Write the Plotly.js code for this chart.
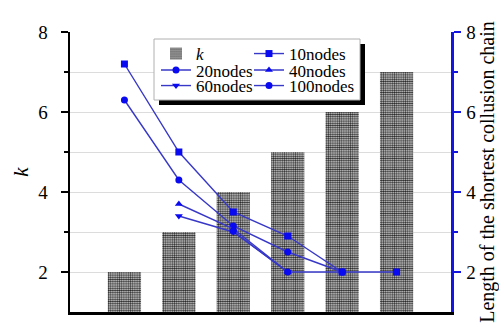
<!DOCTYPE html>
<html>
<head>
<meta charset="utf-8">
<script src="https://cdn.plot.ly/plotly-3.0.1.min.js"></script>
<style>html,body{margin:0;padding:0;background:#fff;}#chart{width:499px;height:325px;}</style>
</head>
<body>
<div id="chart"></div>
<script>
// ---- data ----
var positions = [1, 2, 3, 4, 5, 6];
var kValues = [2, 3, 4, 5, 6, 7];
var nodes10 = [7.2, 5.0, 3.5, 2.9, 2.0, 2.0];
var nodes20 = [6.3, 4.3, 3.15, 2.5, 2.0, null];
var nodes40 = [null, 3.7, 3.08, 2.0, null, null];
var nodes60 = [null, 3.4, 3.0, 2.0, null, null];
var nodes100 = [null, null, 3.02, 2.0, 2.0, null];
var yTicks = [2, 4, 6, 8];
var yMinor = [3, 5, 7];
var seriesNames = ['10nodes', '20nodes', '40nodes', '60nodes', '100nodes'];

// ---- geometry helpers (plot area in pixels) ----
var W = 499, H = 325, L = 70, R = 48, T = 32, B = 13;
var pw = W - L - R, ph = H - T - B;
function px(x) { return (x - L) / pw; }
function py(y) { return (H - B - y) / ph; }

var FONT = '"Liberation Serif", "Times New Roman", serif';
var lineCol = '#3838c8';
var markCol = '#0a0af0';

function lineTrace(name, ys, symbol, legendId) {
  return {
    type: 'scatter', mode: 'lines+markers', name: name,
    x: positions, y: ys, yaxis: 'y2', connectgaps: false,
    line: {color: lineCol, width: 1.4},
    marker: {color: markCol, size: 7, symbol: symbol},
    legend: legendId
  };
}

var traces = [
  {
    type: 'bar', name: '<i>k</i>', x: positions, y: kValues, width: 0.61,
    marker: {color: '#8a8a8a', line: {width: 0},
      pattern: {shape: '.', fgcolor: '#2a2a2a', bgcolor: '#e6e6e6', size: 2.2, solidity: 0.6}},
    legend: 'legend'
  },
  lineTrace(seriesNames[0], nodes10, 'square', 'legend4'),
  lineTrace(seriesNames[1], nodes20, 'circle', 'legend2'),
  lineTrace(seriesNames[2], nodes40, 'triangle-up', 'legend5'),
  lineTrace(seriesNames[3], nodes60, 'triangle-down', 'legend3'),
  lineTrace(seriesNames[4], nodes100, 'circle', 'legend6')
];

function leg(xp, yp) {
  return {x: px(xp), y: py(yp), xanchor: 'left', yanchor: 'middle',
    bgcolor: 'rgba(0,0,0,0)', borderwidth: 0, itemwidth: 30,
    font: {family: FONT, size: 17, color: '#000'}};
}

var layout = {
  width: W, height: H,
  margin: {l: L, r: R, t: T, b: B, pad: 0},
  paper_bgcolor: '#fff', plot_bgcolor: '#fff',
  font: {family: FONT, size: 19, color: '#000'},
  showlegend: true,
  xaxis: {range: [0, 7], showline: true, linecolor: '#000', linewidth: 2.5,
    ticks: '', showticklabels: false, showgrid: false, zeroline: false, fixedrange: true},
  xaxis2: {overlaying: 'x', side: 'top', anchor: 'y', range: [0, 7], tickvals: positions,
    ticks: 'inside', ticklen: 5, tickwidth: 1.5, tickcolor: '#222',
    showline: true, linecolor: '#333', linewidth: 1.5,
    showticklabels: false, showgrid: false, zeroline: false},
  yaxis: {range: [1, 8], tickvals: yTicks, ticks: 'outside', ticklen: 7, tickwidth: 2, tickcolor: '#000',
    showline: true, linecolor: '#000', linewidth: 2.5, zeroline: false,
    showgrid: true, gridcolor: '#dcdcdc', gridwidth: 1,
    ticklabelstandoff: 9,
    tickfont: {family: FONT, size: 19, color: '#000'},
    minor: {tickvals: yMinor, ticks: 'outside', ticklen: 4, tickwidth: 2, tickcolor: '#000',
      showgrid: true, gridcolor: '#dcdcdc', gridwidth: 1},
    title: {text: '<i>k</i>', font: {family: FONT, size: 21}, standoff: 4}},
  yaxis3: {overlaying: 'y', side: 'left', anchor: 'x', range: [1, 8], tickvals: yTicks,
    ticks: 'inside', ticklen: 7, tickwidth: 2, tickcolor: '#000', showticklabels: false,
    showgrid: false, zeroline: false, showline: false,
    minor: {tickvals: yMinor, ticks: 'inside', ticklen: 4, tickwidth: 2, tickcolor: '#000'}},
  yaxis2: {overlaying: 'y', side: 'right', anchor: 'x', range: [1, 8], tickvals: yTicks,
    ticks: 'outside', ticklen: 7, tickwidth: 2, tickcolor: '#1515e0',
    showline: true, linecolor: '#1515e0', linewidth: 2.5, zeroline: false, showgrid: false,
    ticklabelstandoff: 2,
    tickfont: {family: FONT, size: 19, color: '#000'},
    minor: {tickvals: yMinor, ticks: 'outside', ticklen: 4, tickwidth: 2, tickcolor: '#1515e0'},
    title: {text: 'Length of the shortest collusion chain', font: {family: FONT, size: 20}, standoff: 4}},
  yaxis4: {overlaying: 'y', side: 'right', anchor: 'x', range: [1, 8], tickvals: yTicks,
    ticks: 'inside', ticklen: 7, tickwidth: 2, tickcolor: '#1515e0', showticklabels: false,
    showgrid: false, zeroline: false, showline: false,
    minor: {tickvals: yMinor, ticks: 'inside', ticklen: 4, tickwidth: 2, tickcolor: '#1515e0'}},
  legend: leg(156, 54),
  legend2: leg(156, 70.5),
  legend3: leg(156, 86),
  legend4: leg(249, 54),
  legend5: leg(249, 70.5),
  legend6: leg(249, 86),
  shapes: [
    {type: 'rect', xref: 'paper', yref: 'paper', layer: 'above',
      x0: px(159), x1: px(365), y0: py(105), y1: py(44),
      fillcolor: '#000', line: {width: 0}},
    {type: 'rect', xref: 'paper', yref: 'paper', layer: 'above',
      x0: px(154), x1: px(360), y0: py(100), y1: py(39),
      fillcolor: '#fff', line: {color: '#b0b0b0', width: 1}}
  ]
};

Plotly.newPlot('chart', traces, layout, {staticPlot: true, displayModeBar: false});
</script>
</body>
</html>
